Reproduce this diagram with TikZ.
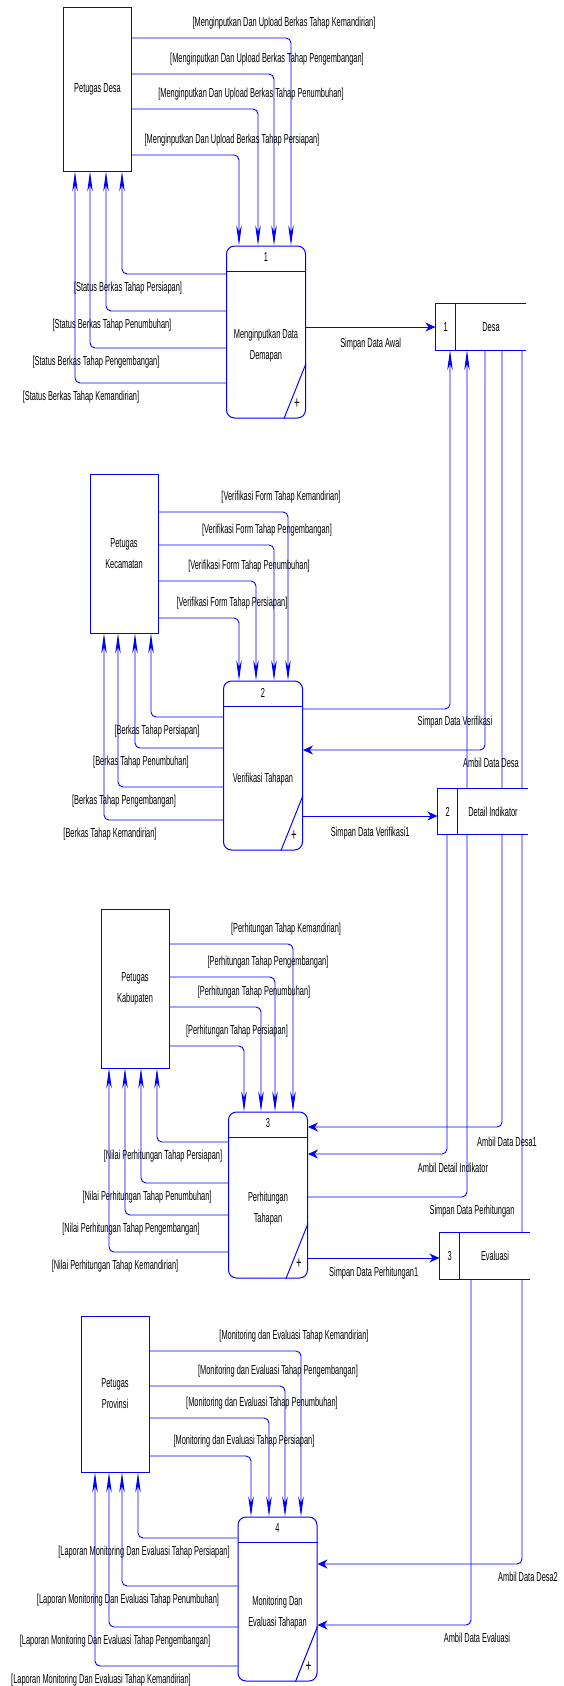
\documentclass[tikz,border=0pt]{standalone}
\usepackage{fontspec}
\setmainfont{Liberation Sans}[FakeStretch=0.57]
\usetikzlibrary{arrows.meta,positioning,calc,backgrounds}
\definecolor{dfdblue}{rgb}{0,0,1}
\newcommand{\dfdfont}{\fontsize{13}{21}\selectfont}
\tikzset{
  entity/.style ={rectangle, draw=dfdblue, line width=0.8pt, fill=white,
                  minimum width=68pt, align=center, font=\dfdfont, inner sep=0pt},
  proc/.style   ={rectangle, rounded corners=8pt, draw=dfdblue, line width=1pt,
                  fill=white, minimum width=79pt, inner sep=0pt},
  ptext/.style  ={align=center, font=\dfdfont, inner sep=1pt},
  pplus/.style  ={font=\fontsize{17}{17}\selectfont, inner sep=0pt},
  pline/.style  ={draw=dfdblue, line width=1pt},
  store/.style  ={rectangle, fill=white, minimum width=70pt, minimum height=46pt,
                  inner sep=0pt, font=\dfdfont},
  storeid/.style={store, minimum width=20pt},
  flow/.style   ={draw=dfdblue, line width=0.9pt, rounded corners=5pt,
                  -{Stealth[length=20pt,width=5.5pt,inset=6pt]}},
  flowH/.style  ={flow, -{Stealth[length=10pt,width=9pt]}},
  lbl/.style    ={font=\dfdfont, inner sep=0pt},
  inlbl/.style  ={lbl, pos=0.5, xshift=-7pt, yshift=15pt},
  outlbl/.style ={lbl, pos=0.5, xshift=6pt, yshift=-14pt},
}

\begin{document}
\begin{tikzpicture}[x=1pt, y=-1pt]
  \useasboundingbox (0,0) rectangle (563,1686);
  % entitas luar
  \node[entity, minimum height=164pt] (pdesa) at (97.5,89)   {Petugas Desa};
  \node[entity, minimum height=159pt] (pkec)  at (124,553.5) {Petugas\\Kecamatan};
  \node[entity, minimum height=159pt] (pkab)  at (135,988.5) {Petugas\\Kabupaten};
  \node[entity, minimum height=156pt] (pprov) at (115,1394)  {Petugas\\Provinsi};

  % proses
  \foreach \n/\x/\y/\h/\txt in {1/266/332/172/{Menginputkan Data\\Demapan},
      2/263/765.5/169/{Verifikasi Tahapan}, 3/268/1195/166/{Perhitungan\\Tahapan},
      4/277.5/1599/164/{Monitoring Dan\\Evaluasi Tahapan}} {
    \node[proc, minimum height=\h*1pt] (p\n) at (\x,\y) {};
    \node[ptext] (t\n) at ($(p\n.center)+(0,14)$) {\txt};
    \node[ptext] (n\n) at ($(p\n.north)+(0,12)$) {\n};
    \draw[pline] ($(p\n.north west)+(0,26)$) -- ($(p\n.north east)+(0,26)$);
    \draw[pline] ($(p\n.south east)+(0,-55)$) -- ($(p\n.south east)+(-22,0)$);
    \node[pplus] (s\n) at ($(p\n.south east)+(-9,-15)$) {+};
  }

  % data store
  \node[store] (desa) at (491,327) {Desa};
  \node[storeid, left=0pt of desa] (iddesa) {1};
  \node[store] (ddi) at (493,811.5) {Detail Indikator};
  \node[storeid, left=0pt of ddi] (idddi) {2};
  \node[store] (eval) at (495,1256) {Evaluasi};
  \node[storeid, left=0pt of eval] (ideval) {3};
  \foreach \s in {desa, ddi, eval} {
    \draw[pline] (\s.north east) -- (id\s.north west) -- (id\s.south west) -- (\s.south east);
    \draw[pline] (id\s.north east) -- (id\s.south east);
  }

  % aliran data
  \begin{scope}[on background layer]
    \fill[white] (0,0) rectangle (563,1686);
    % Petugas Desa
    \foreach \y/\x/\ph in {38/291/Kemandirian, 74/274/Pengembangan, 109/258/Penumbuhan, 155/239/Persiapan}
      \draw[flow] (pdesa.east |- 0,\y) -| node[inlbl] {[Menginputkan Dan Upload Berkas Tahap \ph]} (p1.north -| \x,0);
    \foreach \y/\x/\ph in {274/122/Persiapan, 311/106/Penumbuhan, 348/90/Pengembangan, 383/75/Kemandirian}
      \draw[flow] (p1.west |- 0,\y) -| node[outlbl] {[Status Berkas Tahap \ph]} (pdesa.south -| \x,0);
    % Petugas Kecamatan
    \foreach \y/\x/\ph in {512/288/Kemandirian, 545/274/Pengembangan, 581/256/Penumbuhan, 618/239/Persiapan}
      \draw[flow] (pkec.east |- 0,\y) -| node[inlbl] {[Verifikasi Form Tahap \ph]} (p2.north -| \x,0);
    \foreach \y/\x/\ph in {717/151/Persiapan, 748/135/Penumbuhan, 787/118/Pengembangan, 820/104/Kemandirian}
      \draw[flow] (p2.west |- 0,\y) -| node[outlbl] {[Berkas Tahap \ph]} (pkec.south -| \x,0);
    % Petugas Kabupaten
    \foreach \y/\x/\ph in {944/293/Kemandirian, 977/275/Pengembangan, 1007/261/Penumbuhan, 1046/244/Persiapan}
      \draw[flow] (pkab.east |- 0,\y) -| node[inlbl] {[Perhitungan Tahap \ph]} (p3.north -| \x,0);
    \foreach \y/\x/\ph in {1142/157/Persiapan, 1183/141/Penumbuhan, 1215/125/Pengembangan, 1252/109/Kemandirian}
      \draw[flow] (p3.west |- 0,\y) -| node[outlbl] {[Nilai Perhitungan Tahap \ph]} (pkab.south -| \x,0);
    % Petugas Provinsi
    \foreach \y/\x/\ph in {1351/301/Kemandirian, 1386/285/Pengembangan, 1418/269/Penumbuhan, 1456/251/Persiapan}
      \draw[flow] (pprov.east |- 0,\y) -| node[inlbl] {[Monitoring dan Evaluasi Tahap \ph]} (p4.north -| \x,0);
    \foreach \y/\x/\ph in {1538/138/Persiapan, 1586/122/Penumbuhan, 1627/109/Pengembangan, 1666/95/Kemandirian}
      \draw[flow] (p4.west |- 0,\y) -| node[outlbl] {[Laporan Monitoring Dan Evaluasi Tahap \ph]} (pprov.south -| \x,0);
    % ke dan dari data store
    \draw[flowH] (p1.east |- 0,327) -- node[lbl, pos=0.5, yshift=-17pt] {Simpan Data Awal} (iddesa.west |- 0,327);
    \draw[flow] (p2.east |- 0,709) -| node[lbl, pos=0.5, xshift=5pt, yshift=-13pt] {Simpan Data Verifikasi} (desa.south -| 450,0);
    \draw[flowH] (desa.south -| 485,0) |- node[lbl, pos=0.5, xshift=6pt, yshift=-13pt] {Ambil Data Desa} (p2.east |- 0,750);
    \draw[flowH] (p2.east |- 0,816) -- node[lbl, pos=0.5, yshift=-17pt] {Simpan Data Verifikasi1} (idddi.west |- 0,816);
    \draw[flowH] (desa.south -| 502,0) |- node[lbl, pos=0.5, xshift=5pt, yshift=-15pt] {Ambil Data Desa1} (p3.east |- 0,1127);
    \draw[flowH] (ddi.south -| 447,0) |- node[lbl, pos=0.5, xshift=6pt, yshift=-14pt] {Ambil Detail Indikator} (p3.east |- 0,1154);
    \draw[flow] (p3.east |- 0,1197) -| node[lbl, pos=0.5, xshift=5pt, yshift=-14pt] {Simpan Data Perhitungan} (desa.south -| 467,0);
    \draw[flowH] (p3.east |- 0,1258) -- node[lbl, pos=0.5, yshift=-15pt] {Simpan Data Perhitungan1} (ideval.west |- 0,1258);
    \draw[flowH] (desa.south -| 522,0) |- node[lbl, pos=0.5, xshift=6pt, yshift=-13pt] {Ambil Data Desa2} (p4.east |- 0,1564);
    \draw[flowH] (eval.south -| 471,0) |- node[lbl, pos=0.5, xshift=6pt, yshift=-13pt] {Ambil Data Evaluasi} (p4.east |- 0,1625);
  \end{scope}
\end{tikzpicture}
\end{document}
